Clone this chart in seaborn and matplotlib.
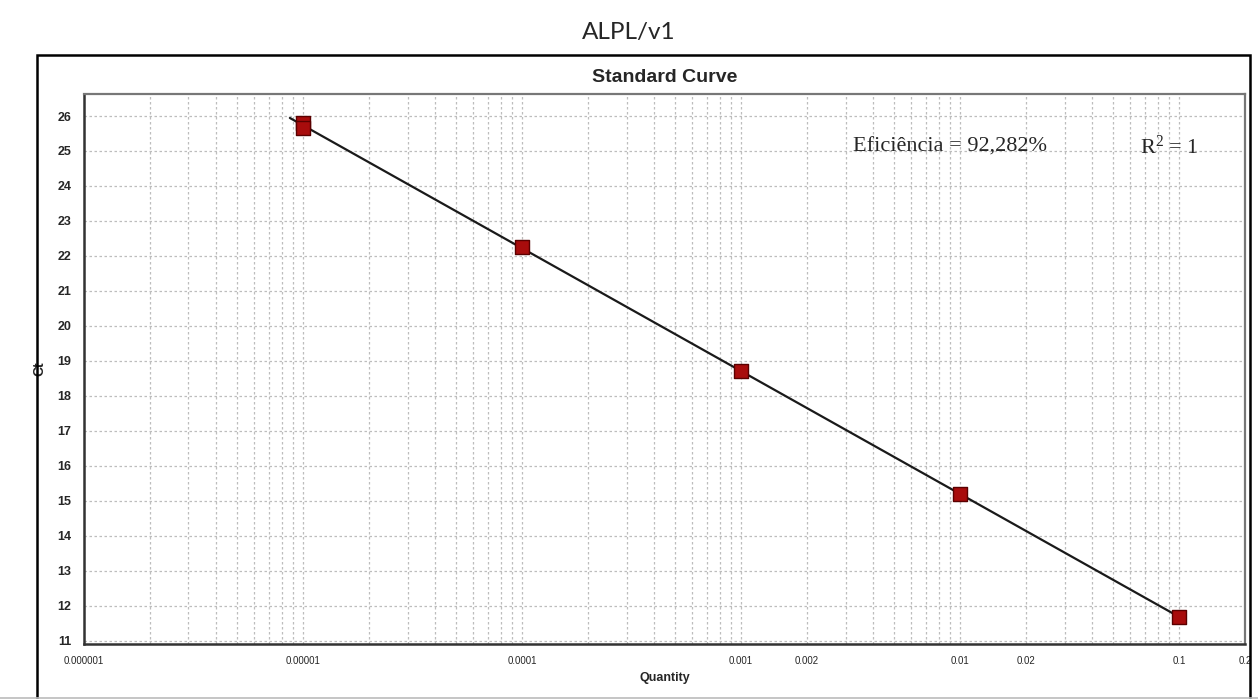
import numpy as np
import pandas as pd
import matplotlib
matplotlib.use("Agg")
import matplotlib.pyplot as plt
from matplotlib.patches import Rectangle
from matplotlib.lines import Line2D
from matplotlib.ticker import LogLocator, NullFormatter, FixedLocator, FixedFormatter
import seaborn as sns

# Standard curve data: quantity vs threshold cycle
quantity = [1e-5, 1e-5, 1e-4, 1e-3, 1e-2, 1e-1]
ct_values = [25.80, 25.65, 22.25, 18.70, 15.18, 11.68]

x_tick_values = [1e-6, 1e-5, 1e-4, 1e-3, 2e-3, 1e-2, 2e-2, 1e-1, 2e-1]
x_tick_labels = ["0.000001", "0.00001", "0.0001", "0.001", "0.002", "0.01", "0.02", "0.1", "0.2"]
y_ticks = list(range(11, 27))

efficiency_text = "Eficiência = 92,282%"
r2_text = r"R$^{2}$ = 1"

sns.set_style("white")
plt.rcParams["font.family"] = ["Liberation Sans", "DejaVu Sans"]
plt.rcParams["mathtext.fontset"] = "custom"
plt.rcParams["mathtext.rm"] = "Liberation Serif"
plt.rcParams["mathtext.it"] = "Liberation Serif:italic"

W, H = 1258, 699
fig = plt.figure(figsize=(W / 100, H / 100), dpi=100)

# outer frame around the chart panel
fig.patches.append(Rectangle((37 / W, -0.05), (1250 - 37) / W, 1.05 - 55 / H,
                             transform=fig.transFigure, fill=False,
                             edgecolor="black", linewidth=1.8))
# strip at the bottom edge
fig.lines.append(Line2D([0, 1], [1.5 / H, 1.5 / H], transform=fig.transFigure,
                        color="#bbbbbb", linewidth=1.2))

fig.text(629 / W, 1 - 33 / H, "ALPL/v1", ha="center", va="center",
         fontsize=17.5, family=["Lato", "DejaVu Sans"])
fig.text(0.5 * (84 + 1245) / W, 1 - 78 / H, "Standard Curve", ha="center", va="center",
         fontsize=14, fontweight="bold")

ax = fig.add_axes([84 / W, 1 - 644 / H, (1245 - 84) / W, (644 - 94) / H])

df = pd.DataFrame({"Quantity": quantity, "Ct": ct_values})

# least-squares fit on log10(quantity)
slope, intercept = np.polyfit(np.log10(df["Quantity"]), df["Ct"], 1)
fit_x = np.logspace(np.log10(min(quantity)) - 0.06, np.log10(max(quantity)), 50)
fit_df = pd.DataFrame({"Quantity": fit_x, "Ct": slope * np.log10(fit_x) + intercept})

ax.set_xscale("log")
sns.lineplot(data=fit_df, x="Quantity", y="Ct", ax=ax, color="#1a1a1a",
             linewidth=1.6, zorder=3)
sns.scatterplot(data=df, x="Quantity", y="Ct", ax=ax, marker="s", s=95,
                color="#a80c0c", edgecolor="#5a0000", linewidth=1.0, zorder=4)

ax.set_xlim(1e-6, 0.2)
ax.set_ylim(10.9, 26.63)

ax.xaxis.set_major_locator(FixedLocator(x_tick_values))
ax.xaxis.set_major_formatter(FixedFormatter(x_tick_labels))
ax.xaxis.set_minor_locator(LogLocator(base=10, subs=np.arange(2, 10)))
ax.xaxis.set_minor_formatter(NullFormatter())
ax.set_yticks(y_ticks)

ax.grid(True, which="both", axis="x", color="#bdbdbd", linestyle=(0, (2, 2)), linewidth=0.9)
ax.grid(True, which="major", axis="y", color="#bdbdbd", linestyle=(0, (2, 2)), linewidth=0.9)

ax.tick_params(axis="x", which="major", labelsize=7, length=3, color="#333333", pad=6)
ax.tick_params(axis="x", which="minor", length=0)
ax.tick_params(axis="y", labelsize=9, length=3, color="#333333", pad=6)
for lab in ax.get_yticklabels():
    lab.set_fontweight("bold")

for side in ["left", "bottom"]:
    ax.spines[side].set_color("#333333")
    ax.spines[side].set_linewidth(1.8)
for side in ["top", "right"]:
    ax.spines[side].set_visible(True)
    ax.spines[side].set_color("#777777")
    ax.spines[side].set_linewidth(1.6)

ax.set_xlabel("Quantity", fontsize=9, fontweight="bold", labelpad=4)
ax.set_ylabel("Ct", fontsize=10, fontweight="bold", labelpad=8)

ax.text(853 / W, 1 - 147 / H, efficiency_text, transform=fig.transFigure,
        ha="left", va="center", fontsize=16, family=["Liberation Serif", "DejaVu Serif"])
ax.text(1140 / W, 1 - 147 / H, r2_text, transform=fig.transFigure,
        ha="left", va="center", fontsize=16, family=["Liberation Serif", "DejaVu Serif"])

fig.savefig("out.png", dpi=100)
